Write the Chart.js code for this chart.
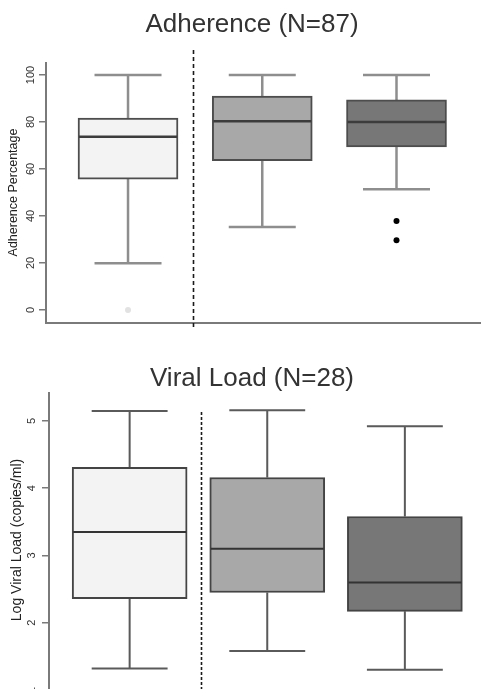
<!DOCTYPE html>
<html><head><meta charset="utf-8">
<script src="https://cdn.jsdelivr.net/npm/chart.js@4.4.1/dist/chart.umd.min.js"></script>
<style>
html,body{margin:0;padding:0;width:485px;height:689px;overflow:hidden;background:#fff}
.w{position:absolute;left:0;width:485px}
</style></head><body>
<div class="w" style="top:0;height:340px"><canvas id="c1"></canvas></div>
<div class="w" style="top:340px;height:380px"><canvas id="c2"></canvas></div>
<script>
// ---------- data ----------
const GROUP_POS = [1, 2, 3];

const ADH_TITLE = 'Adherence (N=87)';
const ADH_YLABEL = 'Adherence Percentage';
const ADH_MIN    = [19.9, 35.3, 51.4];
const ADH_Q1     = [55.7, 63.5, 69.4];
const ADH_MEDIAN = [73.7, 80.3, 80.0];
const ADH_Q3     = [81.7, 91.0, 89.4];
const ADH_MAX    = [100, 100, 100];
const ADH_OUTLIERS = [[0], [], [37.9, 29.7]];
const ADH_TICKS  = [0, 20, 40, 60, 80, 100];

const VL_TITLE = 'Viral Load (N=28)';
const VL_YLABEL = 'Log Viral Load (copies/ml)';
const VL_MIN    = [1.32, 1.58, 1.30];
const VL_Q1     = [2.36, 2.45, 2.17];
const VL_MEDIAN = [3.35, 3.10, 2.60];
const VL_Q3     = [4.31, 4.16, 3.58];
const VL_MAX    = [5.15, 5.16, 4.92];
const VL_OUTLIERS = [[], [], []];
const VL_TICKS  = [1, 2, 3, 4, 5];

// ---------- styles ----------
const BOX_FILLS = ['#f3f3f3', '#a8a8a8', '#777777'];
const OUTLIER_COLORS = ['#e2e2e2', '#000000', '#000000'];
const FONT = "'Liberation Sans', Arial, Helvetica, sans-serif";

function boxPlugin(cfg) {
  return {
    id: 'boxplot',
    beforeDatasetsDraw(chart) {
      const {ctx} = chart, xs = chart.scales.x, ys = chart.scales.y;
      ctx.save();
      ctx.strokeStyle = cfg.whiskerColor;
      ctx.lineWidth = cfg.whiskerWidth;
      GROUP_POS.forEach((p, i) => {
        const cx = xs.getPixelForValue(p);
        const half = cfg.barThickness * cfg.capFrac / 2;
        const yLo = ys.getPixelForValue(cfg.min[i]);
        const yQ1 = ys.getPixelForValue(cfg.q1[i]);
        const yQ3 = ys.getPixelForValue(cfg.q3[i]);
        const yHi = ys.getPixelForValue(cfg.max[i]);
        ctx.beginPath();
        ctx.moveTo(cx, yQ3); ctx.lineTo(cx, yHi);
        ctx.moveTo(cx, yQ1); ctx.lineTo(cx, yLo);
        ctx.moveTo(cx - half, yHi); ctx.lineTo(cx + half, yHi);
        ctx.moveTo(cx - half, yLo); ctx.lineTo(cx + half, yLo);
        ctx.stroke();
      });
      ctx.restore();
    },
    afterDatasetsDraw(chart) {
      const {ctx} = chart, ys = chart.scales.y;
      const meta = chart.getDatasetMeta(0);
      ctx.save();
      ctx.strokeStyle = cfg.medianColor;
      ctx.lineWidth = cfg.medianWidth;
      meta.data.forEach((bar, i) => {
        const {x, width} = bar.getProps(['x', 'width'], true);
        const y = ys.getPixelForValue(cfg.median[i]);
        ctx.beginPath();
        ctx.moveTo(x - width / 2 + 1, y); ctx.lineTo(x + width / 2 - 1, y);
        ctx.stroke();
      });
      ctx.restore();
    },
    afterDraw(chart) {
      const {ctx, chartArea} = chart, xs = chart.scales.x, ys = chart.scales.y;
      ctx.save();
      // dashed separator
      const sx = Math.round(xs.getPixelForValue(cfg.sepPos)) + 0.5;
      ctx.strokeStyle = '#1a1a1a';
      ctx.lineWidth = 1.6;
      ctx.setLineDash(cfg.dash);
      ctx.beginPath();
      ctx.moveTo(sx, chartArea.top + cfg.sepTop);
      ctx.lineTo(sx, chartArea.bottom + cfg.sepBottom);
      ctx.stroke();
      ctx.setLineDash([]);
      // rotated tick labels
      ctx.fillStyle = '#333';
      ctx.font = cfg.tickFont + 'px ' + FONT;
      ctx.textAlign = 'center';
      ctx.textBaseline = 'middle';
      ys.ticks.forEach(t => {
        const y = ys.getPixelForValue(t.value);
        ctx.save();
        ctx.translate(chartArea.left - cfg.tickLabelGap, y);
        ctx.rotate(-Math.PI / 2);
        ctx.fillText(String(t.value), 0, 0);
        ctx.restore();
      });
      // axis title
      ctx.fillStyle = '#222';
      ctx.font = cfg.axisFont + 'px ' + FONT;
      ctx.save();
      ctx.translate(cfg.axisTitleX, cfg.axisTitleY);
      ctx.rotate(-Math.PI / 2);
      ctx.fillText(cfg.ylabel, 0, 0);
      ctx.restore();
      ctx.restore();
    }
  };
}

function makeChart(id, cfg) {
  const outData = [], outColors = [];
  cfg.outliers.forEach((arr, i) => arr.forEach(v => {
    outData.push({x: GROUP_POS[i], y: v});
    outColors.push(OUTLIER_COLORS[i]);
  }));
  return new Chart(document.getElementById(id), {
    type: 'bar',
    data: {
      datasets: [{
        data: GROUP_POS.map((p, i) => ({x: p, y: [cfg.q1[i], cfg.q3[i]]})),
        backgroundColor: BOX_FILLS,
        borderColor: cfg.boxBorder,
        borderWidth: cfg.boxBorderWidth,
        borderSkipped: false,
        barThickness: cfg.barThickness,
        order: 2
      }, {
        type: 'scatter',
        data: outData,
        pointBackgroundColor: outColors,
        pointBorderWidth: 0,
        pointRadius: 3,
        order: 1
      }]
    },
    options: {
      responsive: true,
      maintainAspectRatio: false,
      animation: false,
      events: [],
      layout: {padding: {left: 24, right: 5, top: 0, bottom: 0}},
      plugins: {
        legend: {display: false},
        tooltip: {enabled: false},
        title: {
          display: true,
          text: cfg.title,
          color: '#333',
          font: {family: FONT, size: 26, weight: 'normal', lineHeight: 1},
          padding: cfg.titlePad
        }
      },
      scales: {
        x: {
          type: 'linear',
          offset: false,
          min: cfg.xMin, max: cfg.xMax,
          ticks: {display: false},
          grid: {display: false, offset: false},
          border: {display: cfg.showXAxis, color: '#7a7a7a', width: 2},
          afterFit: s => { s.height = cfg.xAxisHeight; }
        },
        y: {
          type: 'linear',
          min: cfg.yMin, max: cfg.yMax,
          afterBuildTicks: s => { s.ticks = cfg.ticks.map(v => ({value: v})); },
          ticks: {display: false},
          grid: {display: true, drawOnChartArea: false, drawTicks: true, tickLength: 7, color: '#7a7a7a', lineWidth: 1.5},
          border: {display: true, color: '#7a7a7a', width: 2},
          afterFit: s => { s.width = cfg.yAxisWidth; }
        }
      }
    },
    plugins: [boxPlugin(cfg)]
  });
}

makeChart('c1', {
  title: ADH_TITLE, ylabel: ADH_YLABEL,
  min: ADH_MIN, q1: ADH_Q1, median: ADH_MEDIAN, q3: ADH_Q3, max: ADH_MAX,
  outliers: ADH_OUTLIERS, ticks: ADH_TICKS,
  xMin: 0.389, xMax: 3.622, yMin: -5.53, yMax: 105.1,
  sepPos: 1.484, sepTop: -13, sepBottom: 7, dash: [4, 3],
  titlePad: {top: 11.5, bottom: 25.5},
  xAxisHeight: 17, yAxisWidth: 22, showXAxis: true,
  barThickness: 100, capFrac: 0.67,
  whiskerColor: '#8e8e8e', whiskerWidth: 2.5,
  boxBorder: '#4d4d4d', boxBorderWidth: 2,
  medianColor: '#3c3c3c', medianWidth: 2.5,
  tickFont: 11, tickLabelGap: 15,
  axisFont: 12.5, axisTitleX: 14, axisTitleY: 192.5
});

makeChart('c2', {
  title: VL_TITLE, ylabel: VL_YLABEL,
  min: VL_MIN, q1: VL_Q1, median: VL_MEDIAN, q3: VL_Q3, max: VL_MAX,
  outliers: VL_OUTLIERS, ticks: VL_TICKS,
  xMin: 0.414, xMax: 3.546, yMin: 0.703, yMax: 5.416,
  sepPos: 1.521, sepTop: 19, sepBottom: 0, dash: [3, 2],
  titlePad: {top: 26.2, bottom: 0.8},
  xAxisHeight: 10, yAxisWidth: 25, showXAxis: true,
  barThickness: 115, capFrac: 0.66,
  whiskerColor: '#5a5a5a', whiskerWidth: 2,
  boxBorder: '#444444', boxBorderWidth: 2,
  medianColor: '#333333', medianWidth: 2,
  tickFont: 11, tickLabelGap: 17,
  axisFont: 14, axisTitleX: 17.5, axisTitleY: 200
});
</script>
</body></html>
